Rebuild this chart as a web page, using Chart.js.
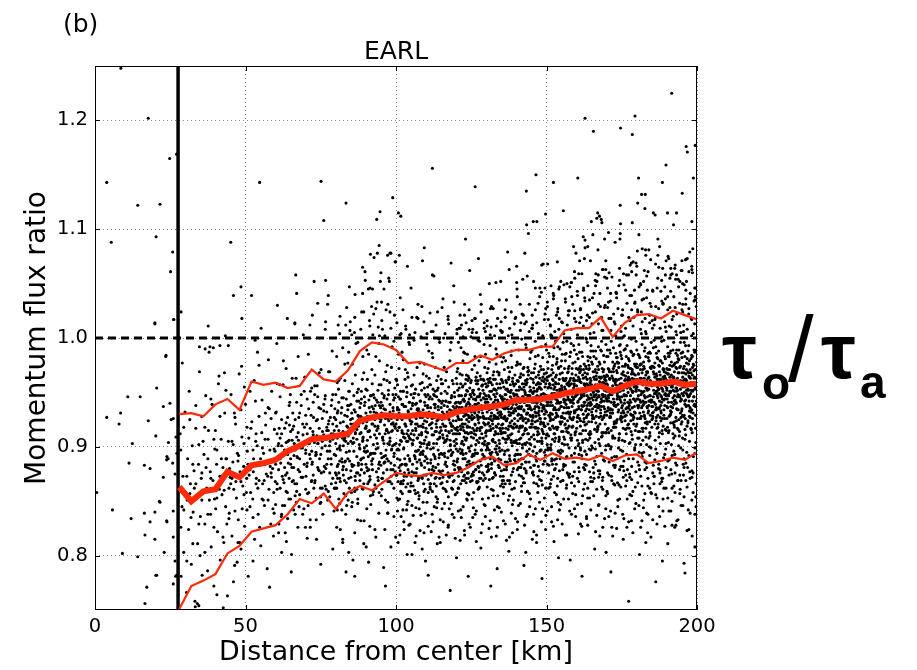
<!DOCTYPE html>
<html>
<head>
<meta charset="utf-8">
<title>EARL momentum flux ratio</title>
<script src="https://cdn.jsdelivr.net/npm/chart.js@4.4.1/dist/chart.umd.min.js"></script>
<style>
  html, body { margin: 0; padding: 0; background: #fff; }
  #wrap { width: 917px; height: 670px; }
</style>
</head>
<body>
<div id="wrap"><canvas id="flux" width="917" height="670"></canvas></div>
<script>
// axis ticks
const xTicks = [0, 50, 100, 150, 200];
const yTicks = [0.8, 0.9, 1.0, 1.1, 1.2];

// radius of the eye edge (km) and the neutral ratio
const eyeEdgeKm = 27.6;
const neutralRatio = 1.0;

// binned statistics every 4 km
const binKm = [28, 32, 36, 40, 44, 48, 52, 56, 60, 64, 68, 72, 76, 80, 84, 88, 92, 96, 100, 104, 108, 112,
  116, 120, 124, 128, 132, 136, 140, 144, 148, 152, 156, 160, 164, 168, 172, 176, 180, 184, 188, 192, 196, 200];
const upperRatio = [.930, .931, .928, .939, .944, .934, .960, .957, .959, .954, .956, .971, .962, .960, .970, .988,
  .996, .994, .989, .977, .978, .974, .970, .977, .977, .984, .980, .986, .989, .989, .992, .992, 1.007, 1.009,
  1.009, 1.019, 1.001, 1.014, 1.021, 1.022, 1.018, 1.025, 1.021, 1.017];
const medianRatio = [.863, .850, .859, .861, .877, .872, .883, .885, .888, .896, .901, .907, .908, .910, .912, .924,
  .927, .929, .928, .928, .930, .929, .927, .932, .934, .936, .937, .939, .943, .943, .944, .946, .949, .951,
  .953, .956, .951, .956, .960, .958, .958, .960, .957, .958];
const lowerRatio = [.751, .772, .777, .783, .802, .809, .822, .825, .828, .838, .852, .848, .857, .843, .858, .864,
  .860, .868, .876, .874, .873, .876, .874, .876, .881, .888, .891, .883, .885, .893, .888, .894, .889, .890,
  .888, .892, .887, .892, .893, .885, .887, .890, .888, .895];

// individual samples: pairs of (distance km, ratio x 1000)
const ptsEye = [3.9,927, 8.0,921, 8.5,931, 10.9,946, 15.0,946, 20.5,954, 19.9,1014, 26.2,1017, 23.5,983, 22.7,937,
  24.9,940, 17.7,924, 26.0,926, 20.2,910, 26.9,909, 24.4,904, 12.4,903, 11.3,885, 16.4,883, 18.3,880, 23.8,888,
  25.8,885, 22.7,872, 26.6,875, 5.8,842, 12.0,834, 16.4,839, 19.9,840, 21.6,849, 23.8,832, 26.0,841, 16.6,819,
  19.9,815, 26.0,817, 9.1,802, 14.2,799, 23.0,803, 26.6,795, 20.2,782, 27.1,782, 17.2,771, 16.6,756, 26.0,774,
  0.6,858, 25.3,925, 27.2,894, 23.9,891, 24.3,889, 21.4,850, 18.3,831, 23.9,831, 20.5,782, 26.8,781,
  8.6,1248, 17.7,1202, 3.9,1143, 14.2,1122, 21.6,1123, 24.8,1165, 27.1,1169, 5.4,1088, 20.3,1093, 25.8,1079,
  25.1,1061, 26.1,1017, 19.9,1013, 23.6,984];

const pts28to60 = [28.3,912, 28.6,781, 28.9,845, 29.2,873, 29.5,803, 29.9,932, 30.2,858, 30.4,766, 30.8,889,
  31.1,824, 31.3,951, 31.7,866, 32.0,792, 32.3,901, 32.6,840, 32.9,878, 33.2,758, 33.5,917, 33.8,853, 34.1,811,
  34.4,884, 34.7,969, 35.0,836, 35.3,871, 35.6,782, 35.9,905, 29.0,977, 31.9,835, 33.0,862, 34.9,800, 35.4,928,
  30.6,851, 28.6,1024,
  36.2,893, 36.5,829, 36.8,947, 37.1,862, 37.4,786, 37.7,915, 38.0,851, 38.3,877, 38.6,808, 38.9,939, 39.2,869,
  39.5,772, 39.8,898, 40.1,843, 40.4,884, 40.7,822, 41.0,958, 41.3,861, 41.6,796, 41.9,907, 42.2,856, 42.5,874,
  42.8,812, 43.1,931, 43.4,845, 43.7,889, 44.0,763, 36.9,881, 38.4,838, 40.0,915, 41.5,873, 42.9,860, 43.8,829,
  37.9,987, 39.7,852, 42.0,889,
  44.3,905, 44.6,839, 44.9,872, 45.2,948, 45.5,818, 45.8,886, 46.1,861, 46.4,791, 46.7,921, 47.0,853, 47.3,894,
  47.6,833, 47.9,967, 48.2,877, 48.5,806, 48.8,909, 49.1,864, 49.4,882, 49.7,827, 50.0,939, 50.3,858, 50.6,896,
  50.9,781, 51.2,874, 51.5,845, 51.8,917, 44.7,880, 45.9,902, 46.8,868, 47.7,892, 48.9,843, 49.6,955, 50.4,871,
  51.1,908, 51.7,858, 46.3,931, 48.1,812, 50.8,884, 45.1,866, 47.2,794, 49.9,876,
  52.1,923, 52.4,852, 52.7,889, 53.0,815, 53.3,942, 53.6,871, 53.9,901, 54.2,838, 54.5,975, 54.8,883, 55.1,809,
  55.4,913, 55.7,866, 56.0,894, 56.3,846, 56.6,931, 56.9,875, 57.2,788, 57.5,907, 57.8,861, 58.1,897, 58.4,829,
  58.7,951, 59.0,880, 59.3,818, 59.6,916, 59.9,868, 52.6,877, 53.4,905, 54.1,862, 55.0,889, 55.9,851, 56.7,920,
  57.4,873, 58.2,882, 59.1,843, 59.8,896, 52.9,961, 54.7,826, 56.2,869, 57.9,935, 59.4,858, 53.8,884, 55.6,899,
  58.6,872, 34.7,992, 36.6,990, 41.5,993, 38.2,992, 39.3,991, 44.3,993, 53.2,998, 54.0,987, 57.6,980, 48.7,974,
  43.0,968, 41.2,965, 33.3,753, 34.5,754, 42.6,752];

const pts60to100 = [60.2,932, 60.5,861, 60.8,901, 61.1,829, 61.4,957, 61.7,885, 62.0,912, 62.3,846, 62.6,979,
  62.9,893, 63.2,821, 63.5,922, 63.8,876, 64.1,905, 64.4,852, 64.7,941, 65.0,884, 65.3,801, 65.6,916, 65.9,869,
  66.2,903, 66.5,838, 66.8,963, 67.1,891, 67.4,826, 67.7,927, 68.0,877, 60.7,889, 61.5,908, 62.2,873, 63.0,897,
  63.9,858, 64.6,920, 65.4,881, 66.1,892, 66.9,849, 67.6,906, 60.4,995, 61.9,836, 63.3,874, 64.9,948, 66.4,866,
  67.3,890, 61.2,917, 62.8,867, 64.2,885, 65.7,931, 67.0,859, 68.3,899, 63.6,813,
  68.5,938, 68.8,872, 69.1,911, 69.4,843, 69.7,964, 70.0,894, 70.3,921, 70.6,857, 70.9,985, 71.2,903, 71.5,833,
  71.8,929, 72.1,884, 72.4,914, 72.7,862, 73.0,948, 73.3,892, 73.6,815, 73.9,925, 74.2,879, 74.5,909, 74.8,848,
  75.1,971, 75.4,899, 75.7,838, 76.0,933, 68.9,899, 69.6,918, 70.4,882, 71.0,906, 71.9,868, 72.6,927, 73.4,895,
  74.1,903, 74.9,862, 75.6,914, 69.2,1003, 70.8,846, 72.2,886, 73.8,956, 75.2,876, 68.6,901, 70.1,873, 71.6,951,
  73.1,869, 74.6,889, 75.9,907, 69.9,826, 72.9,904, 74.4,936, 76.2,882, 71.3,893, 73.7,910, 75.0,854,
  76.4,944, 76.7,880, 77.0,918, 77.3,851, 77.6,969, 77.9,901, 78.2,927, 78.5,866, 78.8,988, 79.1,909, 79.4,841,
  79.7,935, 80.0,892, 80.3,919, 80.6,871, 80.9,953, 81.2,899, 81.5,824, 81.8,931, 82.1,886, 82.4,914, 82.7,857,
  83.0,976, 83.3,905, 83.6,846, 83.9,938, 76.9,907, 77.7,924, 78.4,889, 79.2,912, 79.9,876, 80.7,933, 81.4,901,
  82.2,908, 82.9,869, 83.7,919, 76.5,1008, 78.0,854, 79.5,893, 81.0,961, 82.5,882, 84.1,903, 77.2,896, 78.7,943,
  80.2,874, 81.7,912, 83.2,887, 76.8,861, 79.0,921, 80.5,898, 82.0,945, 83.5,879, 77.5,915, 79.8,862, 81.3,887,
  83.8,928, 78.1,905, 80.8,884, 82.8,906,
  84.3,951, 84.6,887, 84.9,925, 85.2,858, 85.5,976, 85.8,908, 86.1,934, 86.4,873, 86.7,995, 87.0,916, 87.3,848,
  87.6,942, 87.9,899, 88.2,928, 88.5,879, 88.8,962, 89.1,909, 89.4,832, 89.7,941, 90.0,895, 90.3,923, 90.6,866,
  90.9,985, 91.2,915, 91.5,855, 91.8,947, 84.5,914, 85.3,931, 86.0,896, 86.8,919, 87.5,883, 88.3,940, 89.0,908,
  89.8,917, 90.5,878, 91.3,926, 84.8,1015, 86.3,862, 87.8,902, 89.3,968, 90.8,891, 84.1,910, 85.6,903, 87.1,950,
  88.6,884, 90.1,919, 91.6,894, 85.0,872, 87.4,929, 88.9,905, 90.4,952, 91.9,887, 85.9,921, 88.0,869, 89.5,896,
  91.1,936, 86.5,912, 89.2,890, 90.7,914, 84.4,938, 86.9,876, 88.4,913, 90.2,901, 91.4,870,
  92.1,958, 92.4,894, 92.7,932, 93.0,865, 93.3,983, 93.6,915, 93.9,941, 94.2,880, 94.5,1002, 94.8,923, 95.1,855,
  95.4,949, 95.7,906, 96.0,935, 96.3,886, 96.6,969, 96.9,916, 97.2,839, 97.5,948, 97.8,902, 98.1,930, 98.4,873,
  98.7,992, 99.0,922, 99.3,862, 99.6,954, 92.3,921, 93.1,938, 93.8,903, 94.6,926, 95.3,890, 96.1,947, 96.8,915,
  97.6,924, 98.3,885, 99.1,933, 92.6,1022, 94.1,869, 95.6,909, 97.1,975, 98.6,898, 99.8,917, 92.9,911, 94.4,957,
  95.9,891, 97.4,926, 98.9,901, 92.2,879, 94.9,936, 96.4,912, 97.9,959, 99.4,894, 93.5,928, 95.8,876, 97.3,903,
  99.2,943, 94.0,919, 96.7,897, 98.5,921, 92.8,945, 95.0,883, 96.2,920, 98.0,908, 99.7,877, 93.4,898, 95.2,931,
  97.0,889, 98.8,915, 46.0,1039, 52.0,1039, 67.0,1041, 74.0,1032, 77.3,1031, 86.4,1040, 91.4,1046, 95.2,1033,
  98.0,1024, 66.4,1013, 71.4,1012, 76.6,1015, 63.9,1018, 81.4,1020, 84.7,1007, 91.9,1029, 88.6,1024, 96.7,1026,
  94.1,1010, 60.6,1030, 55.2,1009, 48.8,1018, 43.3,1002, 37.6,1011, 72.2,1021];

const pts100to150 = [100.1,962, 100.3,897, 100.5,934, 100.7,868, 100.9,985, 101.1,918, 101.3,944, 101.5,883,
  101.7,1004, 101.9,926, 102.1,857, 102.3,951, 102.5,909, 102.7,937, 102.9,889, 103.1,971, 103.3,919, 103.5,842,
  103.7,950, 103.9,905, 104.1,932, 104.3,876, 104.5,994, 104.7,924, 104.9,864, 105.1,956, 105.3,923, 105.5,940,
  105.7,906, 105.9,928, 106.1,892, 106.3,949, 106.5,917, 106.7,926, 106.9,880, 107.1,935, 107.3,1018, 107.5,871,
  107.7,911, 107.9,977, 108.1,900, 108.3,919, 108.5,913, 108.7,959, 108.9,893, 109.1,928, 109.3,903, 109.5,881,
  109.7,938, 109.9,914, 100.2,961, 100.6,898, 101.0,931, 101.4,878, 101.8,905, 102.2,939, 102.6,899, 103.0,921,
  103.4,884, 103.8,968, 104.2,910, 104.6,887, 105.0,929, 105.4,903, 105.8,945, 106.2,860, 106.6,915, 107.0,896,
  107.4,933, 107.8,888, 108.2,942, 108.6,872, 109.0,921, 109.4,954, 109.8,891, 100.4,925, 100.8,946, 101.2,902,
  101.6,859, 102.0,915, 102.4,980, 102.8,876, 103.2,937, 103.6,912, 104.0,850, 104.4,941, 104.8,907, 105.2,873,
  105.6,930, 106.0,998, 106.4,889, 106.8,940, 107.2,908, 107.6,852, 108.0,932, 108.4,895, 108.8,927, 109.2,866,
  109.6,948,
  110.1,965, 110.3,899, 110.5,936, 110.7,870, 110.9,988, 111.1,920, 111.3,946, 111.5,885, 111.7,1006, 111.9,928,
  112.1,859, 112.3,953, 112.5,911, 112.7,939, 112.9,891, 113.1,973, 113.3,921, 113.5,844, 113.7,952, 113.9,907,
  114.1,934, 114.3,878, 114.5,996, 114.7,926, 114.9,866, 115.1,958, 115.3,925, 115.5,942, 115.7,908, 115.9,930,
  116.1,894, 116.3,951, 116.5,919, 116.7,928, 116.9,882, 117.1,937, 117.3,1020, 117.5,873, 117.7,913, 117.9,979,
  118.1,902, 118.3,921, 118.5,915, 118.7,961, 118.9,895, 119.1,930, 119.3,905, 119.5,883, 119.7,940, 119.9,916,
  110.2,923, 110.6,948, 111.0,904, 111.4,861, 111.8,917, 112.2,982, 112.6,878, 113.0,939, 113.4,914, 113.8,852,
  114.2,943, 114.6,909, 115.0,875, 115.4,932, 115.8,1000, 116.2,891, 116.6,942, 117.0,910, 117.4,854, 117.8,934,
  118.2,897, 118.6,929, 119.0,868, 119.4,950, 119.8,935, 110.4,902, 110.8,930, 111.2,957, 111.6,888, 112.0,926,
  112.4,899, 112.8,947, 113.2,881, 113.6,924, 114.0,965, 114.4,893, 114.8,918, 115.2,940, 115.6,872, 116.0,927,
  116.4,906, 116.8,969, 117.2,890, 117.6,925, 118.0,901, 118.4,945, 118.8,919, 119.2,887, 119.6,912,
  120.1,903, 120.3,969, 120.5,928, 120.7,881, 120.9,947, 121.1,912, 121.3,1009, 121.5,866, 121.7,936, 121.9,895,
  122.1,955, 122.3,921, 122.5,873, 122.7,942, 122.9,986, 123.1,907, 123.3,930, 123.5,852, 123.7,918, 123.9,961,
  124.1,899, 124.3,944, 124.5,884, 124.7,927, 124.9,1001, 125.1,913, 125.3,869, 125.5,950, 125.7,933, 125.9,892,
  126.1,975, 126.3,920, 126.5,879, 126.7,939, 126.9,906, 127.1,958, 127.3,925, 127.5,862, 127.7,946, 127.9,915,
  128.1,983, 128.3,897, 128.5,935, 128.7,876, 128.9,952, 129.1,922, 129.3,1014, 129.5,889, 129.7,941, 129.9,910,
  120.2,937, 120.6,896, 121.0,954, 121.4,919, 121.8,877, 122.2,943, 122.6,909, 123.0,929, 123.4,966, 123.8,886,
  124.2,923, 124.6,948, 125.0,901, 125.4,937, 125.8,858, 126.2,931, 126.6,964, 127.0,894, 127.4,940, 127.8,917,
  128.2,871, 128.6,956, 129.0,928, 129.4,902, 129.8,947, 120.4,918, 120.8,862, 121.2,940, 121.6,991, 122.0,905,
  122.4,932, 122.8,889, 123.2,948, 123.6,913, 124.0,871, 124.4,936, 124.8,959, 125.2,925, 125.6,885, 126.0,912,
  126.4,944, 126.8,868, 127.2,927, 127.6,979, 128.0,908, 128.4,938, 128.8,893, 129.2,961, 129.6,920, 130.0,882,
  130.2,944, 130.4,899, 130.6,972, 130.8,926, 131.0,870, 131.2,951, 131.4,915, 131.6,1010, 131.8,885, 132.0,938,
  132.2,907, 132.4,962, 132.6,929, 132.8,876, 133.0,946, 133.2,990, 133.4,912, 133.6,934, 133.8,855, 134.0,921,
  134.2,966, 134.4,903, 134.6,947, 134.8,888, 135.0,930, 135.2,1005, 135.4,917, 135.6,873, 135.8,955, 136.0,937,
  136.2,896, 136.4,979, 136.6,924, 136.8,883, 137.0,943, 137.2,910, 137.4,962, 137.6,929, 137.8,866, 138.0,950,
  138.2,919, 138.4,988, 138.6,901, 138.8,939, 139.0,880, 139.2,956, 139.4,926, 139.6,1018, 139.8,893,
  130.1,915, 130.5,956, 130.9,903, 131.3,937, 131.7,880, 132.1,921, 132.5,948, 132.9,898, 133.3,926, 133.7,969,
  134.1,889, 134.5,932, 134.9,914, 135.3,946, 135.7,863, 136.1,928, 136.5,953, 136.9,907, 137.3,938, 137.7,892,
  138.1,935, 138.5,861, 138.9,918, 139.3,944, 139.7,904, 130.3,932, 130.7,884, 131.1,960, 131.5,925, 131.9,895,
  132.3,940, 132.7,911, 133.1,874, 133.5,958, 133.9,931, 134.3,899, 134.7,983, 135.1,920, 135.5,941, 135.9,879,
  136.3,913, 136.7,936, 137.1,869, 137.5,951, 137.9,922, 138.3,904, 138.7,960, 139.1,933, 139.5,888, 139.9,942,
  140.1,948, 140.3,903, 140.5,976, 140.7,930, 140.9,874, 141.1,955, 141.3,919, 141.5,1014, 141.7,889, 141.9,942,
  142.1,911, 142.3,966, 142.5,933, 142.7,880, 142.9,950, 143.1,994, 143.3,916, 143.5,938, 143.7,859, 143.9,925,
  144.1,970, 144.3,907, 144.5,951, 144.7,892, 144.9,934, 145.1,1009, 145.3,921, 145.5,877, 145.7,959, 145.9,941,
  146.1,900, 146.3,983, 146.5,928, 146.7,887, 146.9,947, 147.1,914, 147.3,966, 147.5,933, 147.7,870, 147.9,954,
  148.1,923, 148.3,992, 148.5,905, 148.7,943, 148.9,884, 149.1,960, 149.3,930, 149.5,1022, 149.7,897, 149.9,946,
  140.2,919, 140.6,960, 141.0,907, 141.4,941, 141.8,884, 142.2,925, 142.6,952, 143.0,902, 143.4,930, 143.8,973,
  144.2,893, 144.6,936, 145.0,918, 145.4,950, 145.8,867, 146.2,932, 146.6,957, 147.0,911, 147.4,942, 147.8,896,
  148.2,939, 148.6,865, 149.0,922, 149.4,948, 149.8,908, 140.4,936, 140.8,888, 141.2,964, 141.6,929, 142.0,899,
  142.4,944, 142.8,915, 143.2,878, 143.6,962, 144.0,935, 144.4,903, 144.8,987, 145.2,924, 145.6,945, 146.0,883,
  146.4,917, 146.8,940, 147.2,873, 147.6,955, 148.0,926, 148.4,908, 148.8,964, 149.2,937, 149.6,892, 150.0,947,
  141.3,976, 143.5,896, 145.5,929, 147.5,958, 149.5,919];

const pts150to200 = [150.2,912, 150.4,978, 150.6,941, 150.8,883, 151.0,958, 151.2,924, 151.4,1003, 151.6,870,
  151.8,949, 152.0,907, 152.2,968, 152.4,934, 152.6,888, 152.8,955, 153.0,997, 153.2,918, 153.4,940, 153.6,864,
  153.8,928, 154.0,973, 154.2,909, 154.4,953, 154.6,894, 154.8,937, 155.0,1015, 155.2,923, 155.4,879, 155.6,962,
  155.8,944, 156.0,902, 156.2,985, 156.4,931, 156.6,890, 156.8,950, 157.0,917, 157.2,969, 157.4,936, 157.6,872,
  157.8,957, 158.0,926, 158.2,995, 158.4,908, 158.6,946, 158.8,886, 159.0,963, 159.2,933, 159.4,1025, 159.6,899,
  159.8,949, 150.1,938, 150.5,899, 150.9,965, 151.3,931, 151.7,887, 152.1,946, 152.5,917, 152.9,880, 153.3,966,
  153.7,942, 154.1,905, 154.5,990, 154.9,927, 155.3,951, 155.7,884, 156.1,920, 156.5,943, 156.9,876, 157.3,959,
  157.7,930, 158.1,911, 158.5,967, 158.9,940, 159.3,894, 159.7,952, 150.3,961, 150.7,910, 151.1,944, 151.5,897,
  151.9,930, 152.3,957, 152.7,905, 153.1,934, 153.5,978, 153.9,896, 154.3,940, 154.7,921, 155.1,954, 155.5,869,
  155.9,936, 156.3,961, 156.7,914, 157.1,946, 157.5,899, 157.9,943, 158.3,867, 158.7,925, 159.1,951, 159.5,911,
  159.9,972, 151.2,927, 153.2,948, 155.2,903, 157.2,932, 159.2,958,
  160.1,952, 160.3,906, 160.5,981, 160.7,935, 160.9,877, 161.1,960, 161.3,924, 161.5,1019, 161.7,892, 161.9,947,
  162.1,915, 162.3,971, 162.5,938, 162.7,884, 162.9,956, 163.1,1000, 163.3,921, 163.5,943, 163.7,862, 163.9,930,
  164.1,975, 164.3,911, 164.5,956, 164.7,897, 164.9,939, 165.1,1013, 165.3,926, 165.5,881, 165.7,964, 165.9,946,
  166.1,904, 166.3,988, 166.5,933, 166.7,891, 166.9,952, 167.1,919, 167.3,971, 167.5,938, 167.7,875, 167.9,959,
  168.1,928, 168.3,997, 168.5,910, 168.7,948, 168.9,888, 169.1,965, 169.3,935, 169.5,1030, 169.7,901, 169.9,951,
  160.2,923, 160.6,964, 161.0,912, 161.4,945, 161.8,889, 162.2,930, 162.6,957, 163.0,907, 163.4,935, 163.8,979,
  164.2,898, 164.6,941, 165.0,923, 165.4,955, 165.8,871, 166.2,937, 166.6,962, 167.0,916, 167.4,947, 167.8,901,
  168.2,944, 168.6,869, 169.0,927, 169.4,953, 169.8,913, 160.4,941, 160.8,893, 161.2,969, 161.6,934, 162.0,904,
  162.4,949, 162.8,920, 163.2,883, 163.6,967, 164.0,940, 164.4,908, 164.8,993, 165.2,929, 165.6,950, 166.0,887,
  166.4,922, 166.8,945, 167.2,878, 167.6,960, 168.0,931, 168.4,913, 168.8,969, 169.2,942, 169.6,897, 170.0,952,
  161.3,899, 163.3,958, 165.3,935, 167.3,907, 169.3,962, 162.5,926, 166.5,948,
  170.2,916, 170.4,983, 170.6,945, 170.8,886, 171.0,962, 171.2,928, 171.4,1007, 171.6,873, 171.8,953, 172.0,910,
  172.2,972, 172.4,939, 172.6,891, 172.8,959, 173.0,1002, 173.2,922, 173.4,944, 173.6,867, 173.8,932, 174.0,977,
  174.2,912, 174.4,957, 174.6,897, 174.8,941, 175.0,1021, 175.2,927, 175.4,882, 175.6,966, 175.8,948, 176.0,905,
  176.2,990, 176.4,935, 176.6,893, 176.8,954, 177.0,920, 177.2,973, 177.4,940, 177.6,875, 177.8,961, 178.0,930,
  178.2,999, 178.4,911, 178.6,950, 178.8,889, 179.0,967, 179.2,937, 179.4,1033, 179.6,902, 179.8,953,
  170.1,942, 170.5,902, 170.9,969, 171.3,935, 171.7,890, 172.1,950, 172.5,921, 172.9,883, 173.3,970, 173.7,946,
  174.1,908, 174.5,994, 174.9,931, 175.3,955, 175.7,887, 176.1,924, 176.5,947, 176.9,879, 177.3,963, 177.7,934,
  178.1,914, 178.5,971, 178.9,944, 179.3,897, 179.7,956, 170.3,965, 170.7,913, 171.1,948, 171.5,900, 171.9,934,
  172.3,961, 172.7,908, 173.1,938, 173.5,982, 173.9,899, 174.3,944, 174.7,925, 175.1,958, 175.5,872, 175.9,940,
  176.3,965, 176.7,917, 177.1,950, 177.5,903, 177.9,947, 178.3,870, 178.7,929, 179.1,955, 179.5,915, 179.9,976,
  171.2,931, 173.2,952, 175.2,906, 177.2,936, 179.2,962, 172.4,918, 176.4,957,
  180.1,955, 180.3,908, 180.5,985, 180.7,938, 180.9,879, 181.1,963, 181.3,926, 181.5,1024, 181.7,894, 181.9,950,
  182.1,917, 182.3,974, 182.5,941, 182.7,886, 182.9,959, 183.1,1004, 183.3,923, 183.5,946, 183.7,864, 183.9,933,
  184.1,979, 184.3,913, 184.5,959, 184.7,899, 184.9,942, 185.1,1016, 185.3,928, 185.5,883, 185.7,967, 185.9,949,
  186.1,906, 186.3,992, 186.5,936, 186.7,894, 186.9,955, 187.1,921, 187.3,975, 187.5,942, 187.7,876, 187.9,962,
  188.1,931, 188.3,1001, 188.5,912, 188.7,951, 188.9,890, 189.1,969, 189.3,938, 189.5,1036, 189.7,903, 189.9,954,
  180.2,926, 180.6,967, 181.0,914, 181.4,948, 181.8,891, 182.2,932, 182.6,960, 183.0,909, 183.4,937, 183.8,982,
  184.2,900, 184.6,943, 185.0,925, 185.4,957, 185.8,873, 186.2,939, 186.6,965, 187.0,918, 187.4,949, 187.8,903,
  188.2,946, 188.6,871, 189.0,929, 189.4,956, 189.8,915, 180.4,944, 180.8,895, 181.2,971, 181.6,936, 182.0,906,
  182.4,951, 182.8,922, 183.2,885, 183.6,969, 184.0,942, 184.4,910, 184.8,996, 185.2,931, 185.6,952, 186.0,888,
  186.4,924, 186.8,947, 187.2,880, 187.6,962, 188.0,933, 188.4,915, 188.8,972, 189.2,944, 189.6,898, 190.0,954,
  181.3,902, 183.3,961, 185.3,937, 187.3,909, 189.3,965, 182.5,928, 186.5,950,
  190.2,918, 190.4,986, 190.6,947, 190.8,888, 191.0,964, 191.2,930, 191.4,1010, 191.6,875, 191.8,955, 192.0,912,
  192.2,975, 192.4,942, 192.6,893, 192.8,961, 193.0,1006, 193.2,924, 193.4,946, 193.6,869, 193.8,934, 194.0,980,
  194.2,914, 194.4,959, 194.6,899, 194.8,943, 195.0,1026, 195.2,929, 195.4,884, 195.6,968, 195.8,950, 196.0,907,
  196.2,993, 196.4,937, 196.6,895, 196.8,956, 197.0,922, 197.2,976, 197.4,942, 197.6,877, 197.8,963, 198.0,932,
  198.2,1002, 198.4,913, 198.6,952, 198.8,891, 199.0,970, 199.2,939, 199.4,1038, 199.6,904, 199.8,955,
  190.1,944, 190.5,904, 190.9,971, 191.3,937, 191.7,892, 192.1,952, 192.5,923, 192.9,885, 193.3,972, 193.7,948,
  194.1,910, 194.5,996, 194.9,933, 195.3,957, 195.7,889, 196.1,926, 196.5,949, 196.9,881, 197.3,965, 197.7,936,
  198.1,916, 198.5,973, 198.9,946, 199.3,899, 199.7,958, 190.3,967, 190.7,915, 191.1,950, 191.5,902, 191.9,936,
  192.3,963, 192.7,910, 193.1,940, 193.5,984, 193.9,901, 194.3,946, 194.7,927, 195.1,960, 195.5,874, 195.9,942,
  196.3,967, 196.7,919, 197.1,952, 197.5,905, 197.9,949, 198.3,872, 198.7,931, 199.1,957, 199.5,917, 199.9,978,
  191.2,933, 193.2,954, 195.2,908, 197.2,938, 199.2,964, 192.4,920, 196.4,959];

// samples well below the lower band
const ptsLowTail = [80.5,842, 82.3,815, 84.1,851, 85.7,796, 87.2,833, 88.8,862, 90.1,808, 91.6,847, 93.0,824,
  94.4,858, 95.9,789, 97.3,839, 98.6,866, 99.9,817, 101.2,852, 102.6,831, 103.9,866, 105.3,801, 106.6,844,
  108.0,823, 109.3,859, 110.7,782, 112.0,838, 113.4,864, 114.7,812, 116.1,848, 117.4,828, 118.8,861, 120.1,798,
  121.5,842, 122.8,819, 124.2,856, 125.5,835, 126.9,867, 128.2,807, 129.6,846, 130.9,825, 132.3,860, 133.6,788,
  135.0,840, 136.3,866, 137.7,817, 139.0,851, 140.4,831, 141.7,864, 143.1,803, 144.4,845, 145.8,822, 147.1,858,
  148.5,779, 149.8,837, 151.2,863, 152.5,813, 153.9,849, 155.2,829, 156.6,862, 157.9,796, 159.3,843, 160.6,820,
  162.0,855, 163.3,834, 164.7,868, 166.0,806, 167.4,847, 168.7,826, 170.1,859, 171.4,785, 172.8,839, 174.1,865,
  175.5,815, 176.8,852, 178.2,832, 179.5,863, 180.9,801, 182.2,844, 183.6,821, 184.9,857, 186.3,776, 187.6,836,
  189.0,862, 190.3,811, 191.7,850, 193.0,828, 194.4,861, 195.7,793, 197.1,842, 198.4,818, 199.6,854,
  96.5,772, 118.0,768, 142.5,791, 161.8,781, 177.3,758, 188.5,795, 196.0,784, 199.3,808, 131.5,772, 109.8,795,
  86.3,781, 154.0,798, 169.8,803, 183.0,812, 192.6,826, 124.0,781, 137.5,804, 146.7,812, 172.0,818, 79.0,806,
  75.0,792, 70.5,816, 65.2,785, 58.0,771, 52.5,795, 46.0,776, 40.5,764, 34.0,756, 62.0,803, 73.5,833, 67.8,845,
  83.4,785, 90.9,794];

// samples above the upper band
const ptsHighTail = [80.8,1012, 83.6,1028, 86.2,1005, 88.9,1041, 91.2,1016, 93.7,1033, 95.5,1008, 97.8,1052,
  99.5,1021, 101.4,1037, 103.2,1011, 105.0,1046, 106.9,1019, 108.6,1029, 110.3,1004, 112.1,1058, 113.8,1024,
  115.6,1036, 117.5,1013, 119.2,1048, 121.0,1009, 122.8,1031, 124.5,1062, 126.2,1018, 128.0,1040, 129.7,1006,
  131.4,1027, 133.2,1051, 134.9,1015, 136.7,1035, 138.5,1003, 140.2,1045, 141.9,1022, 143.6,1057, 145.4,1012,
  147.2,1032, 148.9,1068, 150.6,1017, 152.4,1039, 154.1,1008, 155.8,1049, 157.6,1025, 159.3,1061, 161.0,1014,
  162.7,1037, 164.5,1004, 166.2,1053, 167.9,1029, 169.7,1071, 171.4,1018, 173.1,1042, 174.9,1011, 176.6,1058,
  178.3,1026, 180.0,1066, 181.8,1015, 183.5,1044, 185.2,1009, 187.0,1055, 188.7,1031, 190.4,1075, 192.1,1020,
  193.9,1047, 195.6,1012, 197.3,1061, 199.0,1034, 151.5,1001, 153.7,1024, 156.9,1012, 158.4,1038, 160.3,1003,
  163.6,1021, 165.8,1041, 168.4,1007, 170.6,1033, 172.5,1015, 174.0,1048, 175.9,1002, 177.7,1039, 179.0,1019,
  181.2,1050, 182.9,1006, 184.4,1032, 186.0,1017, 188.0,1043, 189.5,1010, 191.0,1028, 192.9,1054, 194.6,1005,
  196.3,1036, 198.1,1018, 199.6,1046, 137.6,1063, 142.8,1078, 146.3,1046, 127.4,1073, 118.3,1069, 109.4,1083,
  103.8,1066, 94.8,1052, 89.7,1061, 84.5,1047, 77.5,1039, 66.4,1014];

// isolated high values
const ptsOutliers = [45.1,1088, 54.7,1143, 75.1,1144, 83.4,1124, 76.0,1108, 94.7,1116, 93.6,1109, 98.9,1129,
  94.4,1085, 91.5,1077, 93.8,1078, 92.7,1074, 97.2,1076, 98.3,1078, 99.7,1070, 88.9,1065, 95.0,1060, 89.8,1053,
  97.6,1055, 66.7,1058, 72.8,1052, 76.6,1053, 48.5,1047, 90.8,1045, 92.2,1045, 96.0,1045,
  191.6,1225, 179.4,1204, 162.8,1202, 165.6,1190, 174.6,1193, 178.5,1187, 196.4,1176, 196.8,1171, 199.4,1177,
  112.1,1156, 126.3,1139, 146.5,1150, 143.3,1135, 152.3,1143, 160.4,1147, 180.6,1147, 189.7,1159, 188.5,1143,
  198.8,1147, 195.1,1133, 181.6,1132, 182.8,1132, 174.5,1122, 180.3,1124, 182.7,1119, 185.5,1115, 186.1,1113,
  190.2,1115, 193.2,1115, 192.2,1104, 198.3,1107, 167.0,1115, 167.6,1112, 168.2,1109, 168.4,1106, 164.9,1107,
  166.7,1110, 174.6,1105, 178.5,1106, 155.6,1117, 149.7,1114, 143.4,1104, 144.0,1096, 145.6,1107, 146.8,1107,
  100.8,1115, 101.6,1112, 123.1,1091, 137.1,1079, 108.8,1071, 112.6,1057, 140.1,1066, 98.0,1078, 99.9,1070,
  101.1,1076, 148.4,1067, 150.4,1068, 153.6,1070, 159.0,1084, 159.8,1078, 162.8,1083, 163.7,1084, 162.2,1093,
  162.8,1090, 165.4,1095, 169.3,1091, 170.6,1097, 174.5,1096, 172.8,1088, 174.4,1091, 167.1,1081, 180.7,1095,
  180.2,1080, 181.8,1082, 182.9,1081, 184.0,1081, 183.0,1076, 184.6,1072, 187.0,1091, 187.6,1084, 187.0,1076,
  190.6,1073, 191.3,1064, 192.6,1064, 195.0,1071, 196.2,1072, 197.6,1079, 198.6,1082, 161.0,1071, 162.6,1073,
  164.6,1071, 166.4,1059, 167.2,1058, 168.6,1063, 169.7,1063, 170.8,1060, 170.0,1055, 177.4,1074, 178.2,1069,
  178.8,1070, 177.8,1067, 182.5,1062, 179.8,1058, 175.6,1059, 188.6,1064, 189.5,1058, 191.0,1055, 193.2,1058,
  195.0,1062, 195.2,1050, 196.5,1052, 198.5,1060, 131.0,1050, 134.8,1052, 140.1,1051, 142.1,1054, 145.7,1052,
  147.8,1046, 149.5,1046, 151.5,1048, 154.1,1045, 156.8,1050, 158.2,1051, 159.4,1055, 160.7,1059, 162.3,1046];

// columns: [distance km, ratio x 1000, ...]
const colsNear = [[28.5,897,826],[29.5,842,918],[30.5,873,795],[31.5,925,857],[32.5,811,884],[33.5,866,938],
  [34.5,902,829],[35.5,851,876],[36.5,918,803],[37.5,838,889],[38.5,871,944],[39.5,907,826],[40.5,853,897],
  [41.5,928,865],[42.5,817,881],[43.5,889,952],[44.5,862,834],[45.5,905,871],[46.5,841,927],[47.5,887,812],
  [48.5,934,868],[49.5,856,903],[50.5,918,842],[51.5,879,951],[52.5,835,897],[53.5,912,866],[54.5,869,928],
  [55.5,943,852],[56.5,884,907],[57.5,851,936],[58.5,926,876],[59.5,898,839]];

const colsMid = [[60,884,931,847],[60.5,912,866,958],[61,879,903,821],[61.5,946,889,862],[62,901,838,925],
  [62.5,870,957,893],[63,917,881,846],[63.5,859,904,972],[64,893,927,834],[64.5,938,871,906],[65,852,914,889],
  [65.5,906,963,868],[66,881,842,919],[66.5,925,897,855],[67,866,941,909],[67.5,913,879,983],[68,889,856,931],
  [68.5,948,903,872],[69,872,921,838],[69.5,903,884,951],[70,929,861,897],[70.5,885,912,944],[71,858,935,903],
  [71.5,917,889,826],[72,896,954,869],[72.5,941,874,911],[73,867,908,956],[73.5,924,853,893],[74,903,946,881],
  [74.5,878,917,968],[75,935,893,849],[75.5,862,926,905],[76,911,877,939],[76.5,947,901,864],[77,884,932,915],
  [77.5,921,859,889],[78,896,969,876],[78.5,938,884,912],[79,871,907,948],[79.5,915,862,927],
  [80,903,948,867,925],[80.5,931,882,959,908],[81,876,915,941,852],[81.5,922,897,868,963],[82,889,936,911,842],
  [82.5,945,874,923,901],[83,908,961,886,929],[83.5,867,913,944,895],[84,934,889,918,977],[84.5,896,951,862,912],
  [85,921,878,939,905],[85.5,882,926,958,849],[86,947,904,917,883],[86.5,913,869,932,966],[87,891,942,907,861],
  [87.5,928,885,953,919],[88,874,912,936,898],[88.5,951,927,889,944],[89,906,861,922,983],[89.5,938,899,946,876],
  [90,917,953,884,931],[90.5,896,928,962,906],[91,943,879,914,868],[91.5,909,947,932,893],[92,884,921,971,937],
  [92.5,935,902,859,948],[93,919,966,894,925],[93.5,877,931,943,908],[94,952,899,917,872],[94.5,912,938,886,979],
  [95,894,957,925,941],[95.5,938,871,908,929],[96,903,945,962,885],[96.5,926,892,934,851],[97,961,915,879,944],
  [97.5,887,928,952,913],[98,932,905,868,939],[98.5,914,973,926,897],[99,879,936,948,921],[99.5,945,902,919,883]];

const colsCoreA = [[100,903,948,921,874,962],[100.5,936,889,957,915,841],[101,918,972,897,934,881],
  [101.5,951,906,929,866,944],[102,884,939,913,987,925],[102.5,927,898,951,912,869],[103,962,921,884,937,908],
  [103.5,905,946,928,873,955],[104,933,879,915,964,892],[104.5,889,941,926,908,1003],[105,948,912,867,935,921],
  [105.5,915,957,902,884,938],[106,876,928,949,911,966],[106.5,939,896,921,953,857],[107,921,973,908,886,934],
  [107.5,897,935,948,919,871],[108,958,904,927,893,942],[108.5,911,883,952,929,903],[109,934,967,896,918,849],
  [109.5,887,924,941,906,976],[110,946,909,931,874,917],[110.5,913,955,885,938,927],[111,879,932,963,902,944],
  [111.5,936,898,921,957,866],[112,922,944,879,911,986],[112.5,903,927,948,893,931],[113,951,889,914,936,871],
  [113.5,918,961,903,927,946],[114,884,937,925,954,897],[114.5,942,908,871,929,913],[115,915,949,936,894,962],
  [115.5,893,921,958,911,878],[116,938,904,927,973,919],[116.5,961,915,886,942,905],[117,907,932,949,868,927],
  [117.5,929,896,914,955,941],[118,874,941,922,906,989],[118.5,947,919,893,933,862],[119,912,958,937,884,924],
  [119.5,935,901,946,917,879],[120,924,963,898,941,907],[120.5,889,931,952,915,972],[121,947,912,879,936,925],
  [121.5,916,958,933,894,941],[122,936,897,921,966,869],[122.5,902,944,915,928,987],[123,958,921,889,947,913],
  [123.5,925,883,939,908,952],[124,941,965,912,929,876],[124.5,896,927,954,918,939],[125,932,909,946,873,961],
  [125.5,917,952,926,893,1008],[126,948,885,933,915,927],[126.5,911,943,961,902,879],[127,929,968,917,946,894],
  [127.5,953,904,932,881,922],[128,887,936,949,927,965],[128.5,934,918,897,956,912],[129,962,927,945,908,869],
  [129.5,905,944,921,973,936],[130,938,897,955,926,914],[130.5,921,962,903,941,882],[131,946,915,934,978,897],
  [131.5,893,928,959,916,944],[132,957,935,906,924,871],[132.5,926,969,941,889,953],[133,914,943,928,962,904],
  [133.5,949,901,937,918,985],[134,883,926,954,941,912],[134.5,937,958,917,896,929],[135,962,912,945,927,878],
  [135.5,908,936,921,959,943],[136,944,927,893,935,971],[136.5,925,961,948,904,917],[137,897,938,926,953,886],
  [137.5,951,919,964,932,908],[138,929,946,911,887,957],[138.5,912,973,936,924,944],[139,958,904,949,917,931],
  [139.5,935,921,892,966,948],[140,918,952,939,906,975],[140.5,946,929,961,893,924],[141,903,941,917,955,937],
  [141.5,967,935,908,944,881],[142,927,958,946,919,902],[142.5,941,912,973,934,955],[143,886,948,926,961,917],
  [143.5,959,931,943,904,938],[144,924,966,912,947,893],[144.5,947,918,955,929,981],[145,909,943,934,968,921],
  [145.5,962,927,949,896,944],[146,935,951,918,972,907],[146.5,918,946,964,931,889],[147,953,924,937,905,958],
  [147.5,929,969,912,946,936],[148,897,942,958,921,974],[148.5,944,916,933,961,903],[149,971,938,921,949,912],
  [149.5,926,955,943,887,962]];

const colsCoreB = [[150,932,968,911,947,989],[150.5,954,921,972,938,897],[151,917,946,983,929,958],
  [151.5,966,902,941,954,925],[152,938,975,919,962,884],[152.5,912,949,935,991,953],[153,959,927,964,908,944],
  [153.5,943,981,916,952,929],[154,896,934,958,941,972],[154.5,951,967,923,889,946],[155,928,956,979,937,914],
  [155.5,963,914,948,931,996],[156,941,972,907,955,926],[156.5,917,948,963,986,939],[157,957,931,924,968,902],
  [157.5,974,943,956,919,951],[158,932,987,941,908,963],[158.5,949,918,972,937,925],[159,961,954,927,993,944],
  [159.5,913,946,961,932,978],[160,956,934,985,917,948],[160.5,942,971,953,901,929],[161,968,926,944,962,987],
  [161.5,934,959,912,948,971],[162,951,983,937,966,906],[162.5,923,947,976,941,958],[163,974,915,952,933,964],
  [163.5,947,962,929,996,938],[164,912,956,971,945,923],[164.5,963,938,959,914,982],[165,945,978,932,957,901],
  [165.5,927,951,969,943,988],[166,969,937,916,962,947],[166.5,952,981,943,928,965],[167,918,957,974,951,936],
  [167.5,978,946,927,964,903],[168,941,963,989,934,957],[168.5,956,925,948,972,942],[169,937,971,959,913,984],
  [169.5,964,947,932,958,921],[170,929,958,983,944,966],[170.5,972,936,951,917,947],[171,948,989,927,963,934],
  [171.5,915,952,969,941,997],[172,963,931,956,978,908],[172.5,941,974,938,952,923],[173,957,918,986,937,962],
  [173.5,978,947,925,968,949],[174,934,962,951,906,973],[174.5,951,987,943,926,958],[175,923,946,967,981,936],
  [175.5,969,933,952,917,1001],[176,947,974,928,961,943],[176.5,912,956,983,947,929],[177,961,941,968,932,975],
  [177.5,938,979,917,955,962],[178,972,924,953,988,941],[178.5,951,963,936,907,969],[179,927,985,959,944,921],
  [179.5,966,942,974,931,956],[180,944,973,921,962,989],[180.5,958,936,967,914,947],[181,931,982,943,975,926],
  [181.5,976,951,928,963,1004],[182,942,914,971,938,957],[182.5,963,988,947,929,972],[183,917,954,966,983,941],
  [183.5,968,936,952,921,959],[184,953,979,938,964,908],[184.5,929,961,986,947,973],[185,974,943,918,956,937],
  [185.5,946,969,957,932,991],[186,921,958,977,949,964],[186.5,967,934,951,986,927],[187,952,981,929,962,945],
  [187.5,936,957,974,913,969],[188,979,947,961,938,924],[188.5,958,926,953,977,944],[189,943,971,934,962,998],
  [189.5,916,963,981,949,957],[190,961,937,972,926,952],[190.5,948,983,941,967,913],[191,975,958,929,951,986],
  [191.5,932,966,955,978,941],[192,964,945,989,922,958],[192.5,951,918,969,947,976],[193,927,973,941,986,954],
  [193.5,978,952,963,934,917],[194,946,989,925,968,957],[194.5,961,931,974,953,942],[195,923,968,949,982,935],
  [195.5,972,947,928,961,1006],[196,955,983,962,939,916],[196.5,938,961,977,952,971],[197,969,924,946,988,953],
  [197.5,947,979,933,964,928],[198,981,952,968,917,959],[198.5,926,966,951,983,942],[199,963,938,975,946,989],
  [199.5,954,971,929,958,937]];

// the outer, thicker part of the cloud beyond 120 km
const colsDense = [[120.25,912,958,887,1004],[120.75,941,873,926,996],[121.25,898,934,967,881],
  [121.75,925,1012,903,947],[122.25,956,889,918,979],[122.75,874,931,1021,942],[123.25,937,906,962,894],
  [123.75,919,985,876,951],[124.25,963,927,899,1008],[124.75,884,948,936,913],[125.25,929,971,891,1016],
  [125.75,952,908,944,877],[126.25,897,939,983,921],[126.75,934,1005,915,958],[127.25,961,882,928,946],
  [127.75,908,947,997,871],[128.25,943,918,962,1024],[128.75,889,957,931,903],[129.25,926,994,874,949],
  [129.75,958,913,941,985],[130.25,901,937,968,1011],[130.75,947,879,922,959],[131.25,919,963,993,894],
  [131.75,884,931,951,1029],[132.25,966,905,939,917],[132.75,928,1002,887,953],[133.25,952,919,976,898],
  [133.75,893,943,927,1018],[134.25,939,968,906,881],[134.75,915,954,1007,932],[135.25,961,897,944,978],
  [135.75,926,982,913,869],[136.25,948,907,935,1026],[136.75,882,959,924,996],[137.25,935,916,973,951],
  [137.75,969,941,889,1009],[138.25,906,952,931,984],[138.75,943,877,963,918],[139.25,921,996,947,905],
  [139.75,958,933,1019,886],[140.25,897,961,942,978],[140.75,935,914,989,952],[141.25,964,926,881,1031],
  [141.75,918,953,937,999],[142.25,946,889,972,924],[142.75,903,941,958,1013],[143.25,957,922,991,876],
  [143.75,931,969,912,947],[144.25,886,945,1006,938],[144.75,952,928,963,902],[145.25,924,989,941,1021],
  [145.75,968,911,954,883],[146.25,937,976,923,997],[146.75,894,951,942,1014],[147.25,959,917,984,931],
  [147.75,926,963,905,1038],[148.25,948,897,971,953],[148.75,914,982,936,1002],[149.25,967,935,919,887],
  [149.75,933,958,994,1027],[150.25,902,964,941,1033],[150.75,955,929,986,898],[151.25,938,1012,957,916],
  [151.75,971,944,889,1002],[152.25,925,983,961,1041],[152.75,949,912,1006,936],[153.25,976,958,931,884],
  [153.75,918,992,949,1027],[154.25,962,935,1018,907],[154.75,941,974,897,1052],[155.25,985,952,927,968],
  [155.75,909,961,1004,943],[156.25,953,921,979,1036],[156.75,936,997,958,891],[157.25,972,944,913,1021],
  [157.75,927,983,961,1047],[158.25,958,906,942,1008],[158.75,943,977,1031,919],[159.25,989,931,956,877],
  [159.75,914,966,1015,947],[160.25,961,948,927,1043],[160.75,937,994,972,903],[161.25,974,919,953,1026],
  [161.75,946,987,938,1059],[162.25,923,963,1011,952],[162.75,968,941,896,1034],[163.25,951,999,927,972],
  [163.75,906,957,983,1048],[164.25,972,934,1019,944],[164.75,948,988,961,912],[165.25,929,953,1037,976],
  [165.75,983,926,947,1005],[166.25,957,1024,971,898],[166.75,939,968,914,1052],[167.25,992,951,936,1013],
  [167.75,921,976,1041,957],[168.25,964,937,988,909],[168.75,946,1007,959,1063],[169.25,978,929,952,1028],
  [169.75,913,961,994,945],[170.25,957,989,933,1046],[170.75,942,971,1018,901],[171.25,986,952,927,1034],
  [171.75,931,965,1056,948],[172.25,969,944,991,918],[172.75,952,1013,938,976],[173.25,924,982,961,1041],
  [173.75,977,939,1027,956],[174.25,946,993,912,1064],[174.75,963,928,984,1006],[175.25,938,1021,955,974],
  [175.75,989,947,931,1049],[176.25,916,976,1009,962],[176.75,958,936,993,1032],[177.25,981,964,921,1058],
  [177.75,943,1016,972,904],[178.25,967,929,987,1039],[178.75,925,984,951,1011],[179.25,976,958,1044,932],
  [179.75,951,997,919,1069],[180.25,938,973,1026,961],[180.75,984,952,908,1047],[181.25,962,1008,941,976],
  [181.75,917,968,994,1035],[182.25,978,939,1052,957],[182.75,945,991,926,1018],[183.25,969,954,1037,902],
  [183.75,931,986,963,1061],[184.25,987,947,1014,923],[184.75,958,1029,972,941],[185.25,926,974,957,1044],
  [185.75,973,941,998,1012],[186.25,949,1019,934,1068],[186.75,982,962,1046,917],[187.25,935,988,953,1027],
  [187.75,966,927,1009,979],[188.25,954,997,941,1053],[188.75,919,971,1032,964],[189.25,983,948,926,1015],
  [189.75,947,1006,968,1071],[190.25,971,936,992,1038],[190.75,928,983,957,1011],[191.25,988,951,1043,922],
  [191.75,956,1017,974,1059],[192.25,939,964,996,908],[192.75,977,943,1028,1067],[193.25,951,989,935,1003],
  [193.75,916,968,1054,981],[194.25,973,1011,947,1032],[194.75,944,986,921,1062],[195.25,987,955,1024,964],
  [195.75,929,974,996,1049],[196.25,962,1031,943,911],[196.75,981,948,1008,1073],[197.25,946,993,968,1022],
  [197.75,971,927,1041,957],[198.25,934,984,1017,1066],[198.75,976,959,921,1004],[199.25,953,1013,987,1046],
  [199.75,989,942,1029,963]];

// columns reaching into the lower and upper wings
const colsWings = [[80.3,862,826,983],[81.3,848,871,1004],[82.3,879,812,991],[83.3,855,838,1012],
  [84.3,871,803,987],[85.3,884,845,1003],[86.3,859,821,1019],[87.3,876,852,996],[88.3,888,832,1008],
  [89.3,866,811,1024],[90.3,881,843,989],[91.3,873,827,1011],[92.3,889,856,1003],[93.3,862,817,1027],
  [94.3,884,839,995],[95.3,871,861,1016],[96.3,886,824,1002],[97.3,868,849,1031],[98.3,879,808,1009],
  [99.3,891,836,997],[100.3,874,853,1014],[101.3,888,819,1003],[102.3,866,842,1026],[103.3,883,863,1008],
  [104.3,859,828,996],[105.3,877,846,1019],[106.3,891,812,1005],[107.3,869,858,1031],[108.3,885,837,1001],
  [109.3,874,821,1015],[110.3,889,849,994],[111.3,863,866,1023],[112.3,882,831,1006],[113.3,872,854,1012],
  [114.3,890,817,999],[115.3,867,843,1028],[116.3,884,861,1004],[117.3,876,826,1017],[118.3,892,848,996],
  [119.3,869,835,1033],[120.3,886,858,1008],[121.3,878,814,1021],[122.3,893,845,1001],[123.3,871,867,1014],
  [124.3,887,829,1026],[125.3,875,852,1005],[126.3,894,838,1018],[127.3,868,861,998],[128.3,883,821,1031],
  [129.3,891,847,1009],[130.3,877,863,1016],[131.3,889,832,1003],[132.3,872,855,1027],[133.3,895,818,1011],
  [134.3,881,844,1035],[135.3,869,866,1006],[136.3,886,829,1019],[137.3,897,851,1002],[138.3,874,839,1024],
  [139.3,888,862,1013],[140.3,879,824,1038],[141.3,893,848,1007],[142.3,871,867,1021],[143.3,886,836,1015],
  [144.3,898,857,1031],[145.3,876,815,1009],[146.3,891,843,1026],[147.3,882,864,1004],[148.3,869,831,1042],
  [149.3,895,853,1017],[150.3,884,841,1029],[151.3,899,866,1011],[152.3,873,827,1036],[153.3,889,856,1021],
  [154.3,878,842,1047],[155.3,896,869,1014],[156.3,883,819,1033],[157.3,874,852,1025],[158.3,892,838,1051],
  [159.3,886,864,1018],[160.3,871,847,1039],[161.3,897,829,1027],[162.3,881,861,1044],[163.3,893,836,1016],
  [164.3,877,853,1035],[165.3,899,868,1023],[166.3,884,822,1048],[167.3,872,846,1031],[168.3,894,863,1019],
  [169.3,887,834,1056],[170.3,876,857,1028],[171.3,898,841,1041],[172.3,883,866,1022],[173.3,891,825,1037],
  [174.3,879,852,1053],[175.3,896,838,1026],[176.3,874,864,1044],[177.3,889,831,1019],[178.3,882,855,1061],
  [179.3,899,843,1032],[180.3,886,867,1024],[181.3,873,826,1049],[182.3,895,851,1036],[183.3,881,839,1057],
  [184.3,892,862,1021],[185.3,876,833,1043],[186.3,898,856,1029],[187.3,884,845,1065],[188.3,871,868,1034],
  [189.3,893,827,1047],[190.3,887,853,1026],[191.3,879,841,1058],[192.3,896,864,1038],[193.3,883,832,1022],
  [194.3,874,857,1052],[195.3,897,846,1031],[196.3,885,869,1044],[197.3,892,824,1027],[198.3,878,851,1063],
  [199.3,894,838,1035]];

// lower wing of the cloud beyond 100 km
const colsLowWing = [[100.7,851,812],[101.7,836,868],[102.7,873,824],[103.7,847,801],[104.7,829,859],
  [105.7,864,837],[106.7,818,876],[107.7,855,843],[108.7,871,806],[109.7,839,861],[110.7,858,827],[111.7,822,874],
  [112.7,866,845],[113.7,849,811],[114.7,877,833],[115.7,831,862],[116.7,859,819],[117.7,843,872],[118.7,874,838],
  [119.7,816,856],[120.7,862,841],[121.7,835,879],[122.7,869,823],[123.7,851,857],[124.7,826,868],[125.7,874,844],
  [126.7,841,813],[127.7,863,877],[128.7,829,852],[129.7,871,836],[130.7,853,878],[131.7,817,861],[132.7,876,842],
  [133.7,845,826],[134.7,864,873],[135.7,832,857],[136.7,879,814],[137.7,855,869],[138.7,821,847],[139.7,868,834],
  [140.7,846,881],[141.7,873,859],[142.7,828,867],[143.7,859,838],[144.7,881,852],[145.7,838,874],[146.7,866,819],
  [147.7,849,878],[148.7,877,843],[149.7,824,862],[150.7,862,876],[151.7,845,831],[152.7,879,858],[153.7,833,871],
  [154.7,868,847],[155.7,852,882],[156.7,819,865],[157.7,875,841],[158.7,857,873],[159.7,836,856],[160.7,881,868],
  [161.7,848,827],[162.7,866,879],[163.7,828,853],[164.7,872,842],[165.7,855,876],[166.7,837,861],[167.7,878,818],
  [168.7,861,872],[169.7,843,855],[170.7,874,836],[171.7,826,869],[172.7,865,881],[173.7,851,845],[174.7,882,863],
  [175.7,834,878],[176.7,869,826],[177.7,856,872],[178.7,821,859],[179.7,877,848],[180.7,846,883],[181.7,864,832],
  [182.7,879,857],[183.7,838,871],[184.7,858,817],[185.7,873,866],[186.7,829,853],[187.7,866,879],[188.7,852,841],
  [189.7,881,862],[190.7,841,874],[191.7,862,828],[192.7,876,858],[193.7,833,869],[194.7,869,846],[195.7,854,881],
  [196.7,823,863],[197.7,871,839],[198.7,858,876],[199.7,845,866]];

const redColor = '#ff2a0a';
const font = '"DejaVu Sans", sans-serif';

function pairs(...groups) {
  const out = [];
  groups.forEach(g => {
    for (let i = 0; i < g.length; i += 2) out.push({ x: g[i], y: g[i + 1] / 1000 });
  });
  return out;
}

function columns(...groups) {
  const out = [];
  groups.forEach(g => g.forEach(([km, ...vals]) => vals.forEach(v => out.push({ x: km, y: v / 1000 }))));
  return out;
}

function series(ratios) {
  return binKm.map((km, i) => ({ x: km, y: ratios[i] }));
}

const samples = pairs(ptsEye, pts28to60, pts60to100, pts100to150, pts150to200, ptsLowTail, ptsHighTail, ptsOutliers)
  .concat(columns(colsNear, colsMid, colsCoreA, colsCoreB, colsDense, colsWings, colsLowWing));

// frame, inward ticks and all the labels
const decorations = {
  id: 'decorations',
  afterDraw(chart) {
    const { ctx, chartArea: a, scales: { x, y } } = chart;
    ctx.save();
    ctx.strokeStyle = '#000';
    ctx.lineWidth = 1;
    ctx.strokeRect(a.left + 0.5, a.top + 0.5, a.right - a.left - 1, a.bottom - a.top - 1);

    ctx.beginPath();
    xTicks.forEach(v => {
      const px = Math.round(x.getPixelForValue(v)) + 0.5;
      ctx.moveTo(px, a.bottom); ctx.lineTo(px, a.bottom - 5);
      ctx.moveTo(px, a.top); ctx.lineTo(px, a.top + 5);
    });
    yTicks.forEach(v => {
      const py = Math.round(y.getPixelForValue(v)) + 0.5;
      ctx.moveTo(a.left, py); ctx.lineTo(a.left + 5, py);
      ctx.moveTo(a.right, py); ctx.lineTo(a.right - 5, py);
    });
    ctx.stroke();

    ctx.fillStyle = '#000';
    ctx.textBaseline = 'alphabetic';
    ctx.font = '25px ' + font;
    ctx.textAlign = 'left';
    ctx.fillText('(b)', 63, 32);
    ctx.textAlign = 'center';
    ctx.fillText('EARL', (a.left + a.right) / 2, 59);

    ctx.font = '26.8px ' + font;
    ctx.fillText('Distance from center [km]', (a.left + a.right) / 2, 660);
    ctx.save();
    ctx.translate(45, (a.top + a.bottom) / 2);
    ctx.rotate(-Math.PI / 2);
    ctx.font = '28px ' + font;
    ctx.fillText('Momentum flux ratio', 0, 0);
    ctx.restore();

    // tau_o / tau_a
    ctx.textAlign = 'left';
    const sans = '"Liberation Sans", Arial, sans-serif';
    ctx.font = 'bold 78px ' + sans;
    ctx.fillText('\u03C4', 722, 378);
    ctx.font = 'bold 46px ' + sans;
    ctx.fillText('o', 762, 399);
    ctx.font = '92px ' + sans;
    ctx.fillText('/', 788, 381);
    ctx.font = 'bold 78px ' + sans;
    ctx.fillText('\u03C4', 821, 378);
    ctx.font = 'bold 46px ' + sans;
    ctx.fillText('a', 860, 398);
    ctx.restore();
  }
};

new Chart(document.getElementById('flux'), {
  type: 'scatter',
  data: {
    datasets: [
      { type: 'line', data: series(medianRatio), borderColor: redColor, borderWidth: 6, pointRadius: 0, tension: 0 },
      { type: 'line', data: series(upperRatio), borderColor: redColor, borderWidth: 2.2, pointRadius: 0, tension: 0 },
      { type: 'line', data: series(lowerRatio), borderColor: redColor, borderWidth: 2.2, pointRadius: 0, tension: 0 },
      { type: 'line', data: [{ x: eyeEdgeKm, y: 0.75 }, { x: eyeEdgeKm, y: 1.25 }],
        borderColor: '#000', borderWidth: 3.5, pointRadius: 0 },
      { data: samples, pointRadius: 1.55, pointBackgroundColor: '#000', pointBorderWidth: 0, pointHoverRadius: 0 },
      { type: 'line', data: [{ x: 0, y: neutralRatio }, { x: 200, y: neutralRatio }],
        borderColor: '#000', borderWidth: 3, borderDash: [8, 5], pointRadius: 0 }
    ]
  },
  options: {
    responsive: false,
    devicePixelRatio: 1,
    animation: false,
    events: [],
    layout: { padding: { left: 0, right: 220, top: 66, bottom: 0 } },
    plugins: { legend: { display: false }, tooltip: { enabled: false }, title: { display: false } },
    scales: {
      x: {
        type: 'linear', min: 0, max: 200,
        afterFit: s => { s.height = 60; },
        afterBuildTicks: s => { s.ticks = xTicks.map(v => ({ value: v })); },
        grid: { color: '#8a8a8a', lineWidth: 1, drawTicks: false },
        border: { display: false, dash: [1, 3] },
        ticks: { color: '#000', font: { family: font, size: 19.5 }, padding: 5, maxRotation: 0, autoSkip: false,
          callback: v => String(v) }
      },
      y: {
        type: 'linear', min: 0.75, max: 1.25,
        afterFit: s => { s.width = 95; },
        afterBuildTicks: s => { s.ticks = yTicks.map(v => ({ value: v })); },
        grid: { color: '#8a8a8a', lineWidth: 1, drawTicks: false },
        border: { display: false, dash: [1, 3] },
        ticks: { color: '#000', font: { family: font, size: 19.5 }, padding: 7, autoSkip: false,
          callback: v => v.toFixed(1) }
      }
    }
  },
  plugins: [decorations]
});
</script>
</body>
</html>
